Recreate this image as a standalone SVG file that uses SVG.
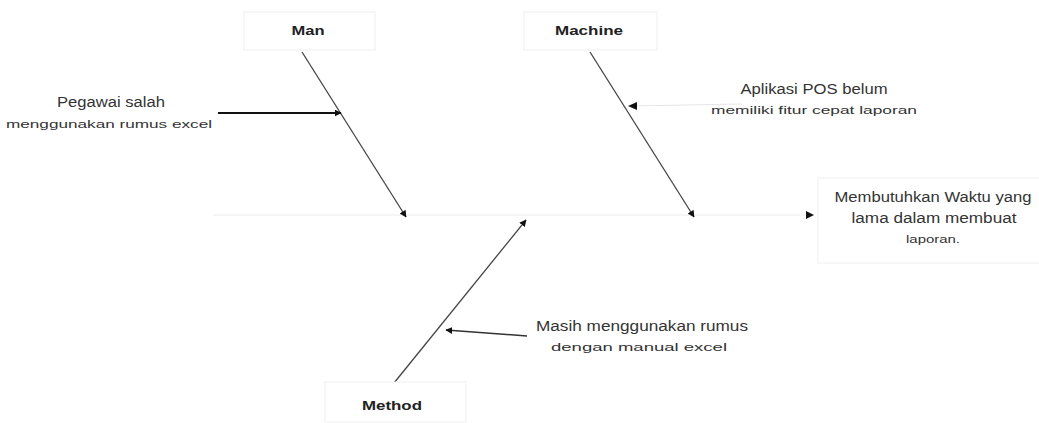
<svg xmlns="http://www.w3.org/2000/svg" width="1039" height="423" viewBox="0 0 1039 423">
<defs>
<style>
.box{fill:#fff;stroke:#efefef;stroke-width:1}
.lbl{font-family:"Liberation Sans",Arial,sans-serif;font-size:13px;font-weight:bold;fill:#222;text-anchor:middle}
.t1{font-family:"Liberation Sans",Arial,sans-serif;font-size:14px;fill:#333;text-anchor:middle}
.t2{font-family:"Liberation Sans",Arial,sans-serif;font-size:11px;fill:#333;text-anchor:middle}
.bone{stroke:#444;stroke-width:1.3;fill:none}
.spine{stroke:#eeeeee;stroke-width:1.2;fill:none}
</style>
<marker id="ah" viewBox="0 0 10 10" refX="9" refY="5" markerWidth="7" markerHeight="7" orient="auto" markerUnits="userSpaceOnUse">
<path d="M0,0 L10,5 L0,10 z" fill="#111"/>
</marker>
</defs>
<rect width="1039" height="423" fill="#fff"/>
<g id="connectors">
<line class="spine" x1="213" y1="215" x2="806" y2="215"/>
<path d="M806,211 L814,215 L806,219 z" fill="#111"/>
<line class="bone" x1="302" y1="52" x2="406" y2="217" marker-end="url(#ah)"/>
<line class="bone" x1="590" y1="52" x2="694" y2="217" marker-end="url(#ah)"/>
<line class="bone" x1="394" y1="383" x2="526" y2="220" marker-end="url(#ah)"/>
<line x1="218" y1="113" x2="341" y2="113" stroke="#111" stroke-width="2" marker-end="url(#ah)"/>
<line x1="742" y1="104" x2="630" y2="106" stroke="#e6e6e6" stroke-width="1.2"/>
<path d="M637,102 L628,106 L637,110 z" fill="#111"/>
<line x1="527" y1="336" x2="446" y2="330" stroke="#333" stroke-width="1.5" marker-end="url(#ah)"/>
</g>
<g id="node-man">
<rect class="box" x="244" y="12" width="131" height="38"/>
<text class="lbl" x="308" y="35" textLength="33" lengthAdjust="spacingAndGlyphs">Man</text>
</g>
<g id="node-machine">
<rect class="box" x="524" y="12" width="133" height="38"/>
<text class="lbl" x="589" y="35" textLength="68" lengthAdjust="spacingAndGlyphs">Machine</text>
</g>
<g id="node-method">
<rect class="box" x="325" y="382" width="141" height="40"/>
<text class="lbl" x="392" y="410" textLength="60" lengthAdjust="spacingAndGlyphs">Method</text>
</g>
<g id="node-effect">
<rect class="box" x="818" y="178" width="230" height="85"/>
<text class="t1" x="933" y="202" textLength="197" lengthAdjust="spacingAndGlyphs">Membutuhkan Waktu yang</text>
<text class="t1" x="934" y="223" textLength="165" lengthAdjust="spacingAndGlyphs">lama dalam membuat</text>
<text class="t2" x="933" y="243" textLength="54" lengthAdjust="spacingAndGlyphs">laporan.</text>
</g>
<g id="cause-pegawai">
<text class="t1" x="111" y="107" textLength="108" lengthAdjust="spacingAndGlyphs">Pegawai salah</text>
<text class="t2" x="109" y="128" textLength="206" lengthAdjust="spacingAndGlyphs">menggunakan rumus excel</text>
</g>
<g id="cause-aplikasi">
<text class="t1" x="814" y="94" textLength="147" lengthAdjust="spacingAndGlyphs">Aplikasi POS belum</text>
<text class="t2" x="814" y="114" textLength="206" lengthAdjust="spacingAndGlyphs">memiliki fitur cepat laporan</text>
</g>
<g id="cause-masih">
<text class="t1" x="642" y="331" textLength="212" lengthAdjust="spacingAndGlyphs">Masih menggunakan rumus</text>
<text class="t2" x="639" y="351" textLength="176" lengthAdjust="spacingAndGlyphs">dengan manual excel</text>
</g>
</svg>
